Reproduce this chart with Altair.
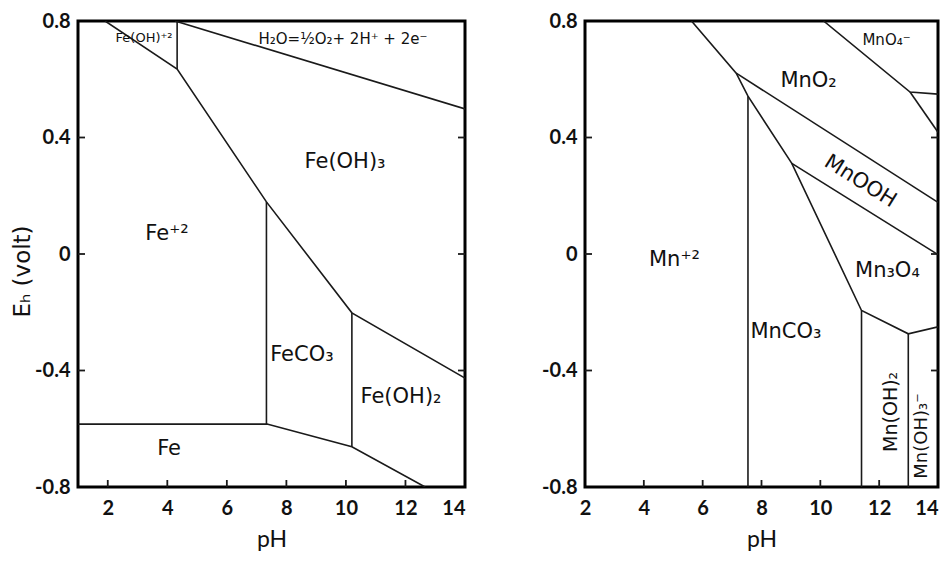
import altair as alt
import pandas as pd

# ---------------- data: Fe system (left panel) ----------------
fe_x_ticks = [2, 4, 6, 8, 10, 12, 14]
fe_y_ticks = [-0.8, -0.4, 0.0, 0.4, 0.8]
fe_inner_y_ticks = [-0.4, 0.0, 0.4]
fe_inner_x_ticks = [2, 4, 6, 8, 10, 12]

fe2_upper_ph = [1.91, 4.33, 7.33, 10.2, 14.0]
fe2_upper_eh = [0.8, 0.635, 0.179, -0.202, -0.426]
fe_water_ph = [4.26, 14.0]
fe_water_eh = [0.8, 0.498]
feoh_v_ph = [4.33, 4.33]
feoh_v_eh = [0.8, 0.635]
feco3_v_ph = [7.33, 7.33]
feco3_v_eh = [0.179, -0.584]
feoh2_v_ph = [10.2, 10.2]
feoh2_v_eh = [-0.202, -0.662]
fe_metal_ph = [1.0, 7.35, 10.2, 12.66]
fe_metal_eh = [-0.584, -0.584, -0.662, -0.8]

fe_labels = ["Fe(OH)₃", "Fe⁺²", "FeCO₃", "Fe(OH)₂", "Fe",
             "H₂O=½O₂+ 2H⁺ + 2e⁻", "Fe(OH)⁺²"]
fe_label_ph = [9.97, 3.99, 8.52, 11.85, 4.06, 9.9, 3.22]
fe_label_eh = [0.316, 0.069, -0.347, -0.491, -0.669, 0.738, 0.742]
fe_label_size = [21, 21, 21, 21, 21, 15, 13]
fe_label_angle = [0, 0, 0, 0, 0, 0, 0]

# ---------------- data: Mn system (right panel) ----------------
mn_x_ticks = [2, 4, 6, 8, 10, 12, 14]
mn_y_ticks = [-0.8, -0.4, 0.0, 0.4, 0.8]
mn_inner_y_ticks = [-0.4, 0.0, 0.4]
mn_inner_x_ticks = [4, 6, 8, 10, 12]

mn2_upper_ph = [5.62, 7.14, 7.54, 9.03, 11.4, 12.99, 14.0]
mn2_upper_eh = [0.8, 0.621, 0.542, 0.311, -0.194, -0.274, -0.25]
mnooh_top_ph = [7.14, 14.0]
mnooh_top_eh = [0.621, 0.177]
mnooh_bot_ph = [9.03, 14.0]
mnooh_bot_eh = [0.311, -0.002]
mnco3_v_ph = [7.54, 7.54]
mnco3_v_eh = [0.542, -0.8]
mnoh2_v_ph = [11.4, 11.4]
mnoh2_v_eh = [-0.194, -0.8]
mnoh3_v_ph = [12.99, 12.99]
mnoh3_v_eh = [-0.274, -0.8]
mno4_ph = [10.11, 13.05, 14.0]
mno4_eh = [0.8, 0.556, 0.549]
mno4_b_ph = [13.05, 14.0]
mno4_b_eh = [0.556, 0.418]

mn_labels = ["MnO₄⁻", "MnO₂", "MnOOH", "Mn⁺²", "Mn₃O₄", "MnCO₃",
             "Mn(OH)₂", "Mn(OH)₃⁻"]
mn_label_ph = [12.25, 9.6, 11.36, 5.04, 12.28, 8.83, 12.41, 13.45]
mn_label_eh = [0.735, 0.594, 0.249, -0.022, -0.057, -0.267, -0.542, -0.625]
mn_label_size = [15, 21, 21, 21, 21, 21, 19, 18]
mn_label_angle = [0, 0, 32, 0, 0, 0, 270, 270]

LINE_COLOR = "#1a1a1a"
FONT = "DejaVu Sans"
TICK_PX = 7
Y_DOMAIN = [-0.8, 0.8]


def lines_df(segments):
    rows = []
    for name, (xs, ys) in segments.items():
        for i, (x, y) in enumerate(zip(xs, ys)):
            rows.append({"line": name, "order": i, "pH": x, "Eh": y})
    return pd.DataFrame(rows)


def ticks_df(xdom, inner_x, inner_y, W, H):
    # inward tick marks, converted from a pixel length into data units
    dx = TICK_PX * (xdom[1] - xdom[0]) / W
    dy = TICK_PX * (Y_DOMAIN[1] - Y_DOMAIN[0]) / H
    rows = []
    for v in inner_y:
        rows += [{"line": f"l{v}", "order": 0, "pH": xdom[0], "Eh": v},
                 {"line": f"l{v}", "order": 1, "pH": xdom[0] + dx, "Eh": v},
                 {"line": f"r{v}", "order": 0, "pH": xdom[1] - dx, "Eh": v},
                 {"line": f"r{v}", "order": 1, "pH": xdom[1], "Eh": v}]
    for v in inner_x:
        rows += [{"line": f"b{v}", "order": 0, "pH": v, "Eh": Y_DOMAIN[0]},
                 {"line": f"b{v}", "order": 1, "pH": v, "Eh": Y_DOMAIN[0] + dy}]
    return pd.DataFrame(rows)


def label_df(labels, xs, ys, sizes, angles):
    return pd.DataFrame({"label": labels, "pH": xs, "Eh": ys,
                         "size": sizes, "angle": angles})


def y_label_expr():
    return ("datum.value == 0 ? '0' : (datum.value < 0 ? '-' + "
            "format(-datum.value, '.1f') : format(datum.value, '.1f'))")


def panel(segments, labels, xdom, x_ticks, y_ticks, inner_x, inner_y, W, H, ytitle):
    xs = alt.Scale(domain=xdom, nice=False, zero=False)
    ys = alt.Scale(domain=Y_DOMAIN, nice=False, zero=False)
    x_axis = alt.Axis(values=x_ticks, title="pH", grid=False, ticks=False, domain=False,
                      labelFlush=False, labelFontSize=20, labelFont="Lato",
                      labelFontWeight="bold", labelPadding=11, labelColor="#111",
                      labelAlign={"condition": {"test": "datum.value == 14", "value": "right"},
                                  "value": "center"},
                      titleFontSize=23, titleFont="Lato", titleFontWeight="normal",
                      titlePadding=10, titleColor="#111")
    y_kwargs = dict(values=y_ticks, grid=False, ticks=False, domain=False,
                    labelFlush=False, labelFontSize=20, labelFont="Lato",
                    labelFontWeight="bold", labelPadding=8, labelColor="#111",
                    labelExpr=y_label_expr())
    if ytitle:
        y_axis = alt.Axis(title=ytitle, titleFontSize=23, titleFont=FONT,
                          titleFontWeight="normal", titleColor="#111",
                          titleX=-44, titleY=250, **y_kwargs)
    else:
        y_axis = alt.Axis(title=None, **y_kwargs)

    X = alt.X("pH:Q", scale=xs, axis=x_axis)
    Y = alt.Y("Eh:Q", scale=ys, axis=y_axis)

    df = lines_df(segments)
    base_lines = alt.Chart(df).mark_line(color=LINE_COLOR, strokeWidth=1.6, clip=True).encode(
        x=X, y=Y, detail="line:N", order="order:Q",
    )
    tick_lines = alt.Chart(ticks_df(xdom, inner_x, inner_y, W, H)).mark_line(
        color=LINE_COLOR, strokeWidth=1.8).encode(
        x=X, y=Y, detail="line:N", order="order:Q",
    )
    text = alt.Chart(labels).mark_text(font=FONT, color="#111", clip=True).encode(
        x=X, y=Y,
        text="label:N",
        size=alt.Size("size:Q", scale=None, legend=None),
        angle=alt.Angle("angle:Q", scale=None, legend=None),
    )
    return alt.layer(base_lines, tick_lines, text).properties(width=W, height=H)


fe_segments = {
    "fe2_upper": (fe2_upper_ph, fe2_upper_eh),
    "water": (fe_water_ph, fe_water_eh),
    "feoh_v": (feoh_v_ph, feoh_v_eh),
    "feco3_v": (feco3_v_ph, feco3_v_eh),
    "feoh2_v": (feoh2_v_ph, feoh2_v_eh),
    "fe_metal": (fe_metal_ph, fe_metal_eh),
}
mn_segments = {
    "mn2_upper": (mn2_upper_ph, mn2_upper_eh),
    "mnooh_top": (mnooh_top_ph, mnooh_top_eh),
    "mnooh_bot": (mnooh_bot_ph, mnooh_bot_eh),
    "mnco3_v": (mnco3_v_ph, mnco3_v_eh),
    "mnoh2_v": (mnoh2_v_ph, mnoh2_v_eh),
    "mnoh3_v": (mnoh3_v_ph, mnoh3_v_eh),
    "mno4": (mno4_ph, mno4_eh),
    "mno4_b": (mno4_b_ph, mno4_b_eh),
}

fe_panel = panel(fe_segments,
                 label_df(fe_labels, fe_label_ph, fe_label_eh, fe_label_size, fe_label_angle),
                 [1, 14], fe_x_ticks, fe_y_ticks, fe_inner_x_ticks, fe_inner_y_ticks,
                 387, 466, "Eₕ   (volt)")
mn_panel = panel(mn_segments,
                 label_df(mn_labels, mn_label_ph, mn_label_eh, mn_label_size, mn_label_angle),
                 [2, 14], mn_x_ticks, mn_y_ticks, mn_inner_x_ticks, mn_inner_y_ticks,
                 353, 466, None)

chart = alt.hconcat(fe_panel, mn_panel, spacing=69).properties(
    padding={"left": 1, "top": 1, "right": 0, "bottom": 0},
    background="white",
).configure_view(stroke="black", strokeWidth=3)

chart.save("out.html", embed_options={"renderer": "svg", "actions": False})
